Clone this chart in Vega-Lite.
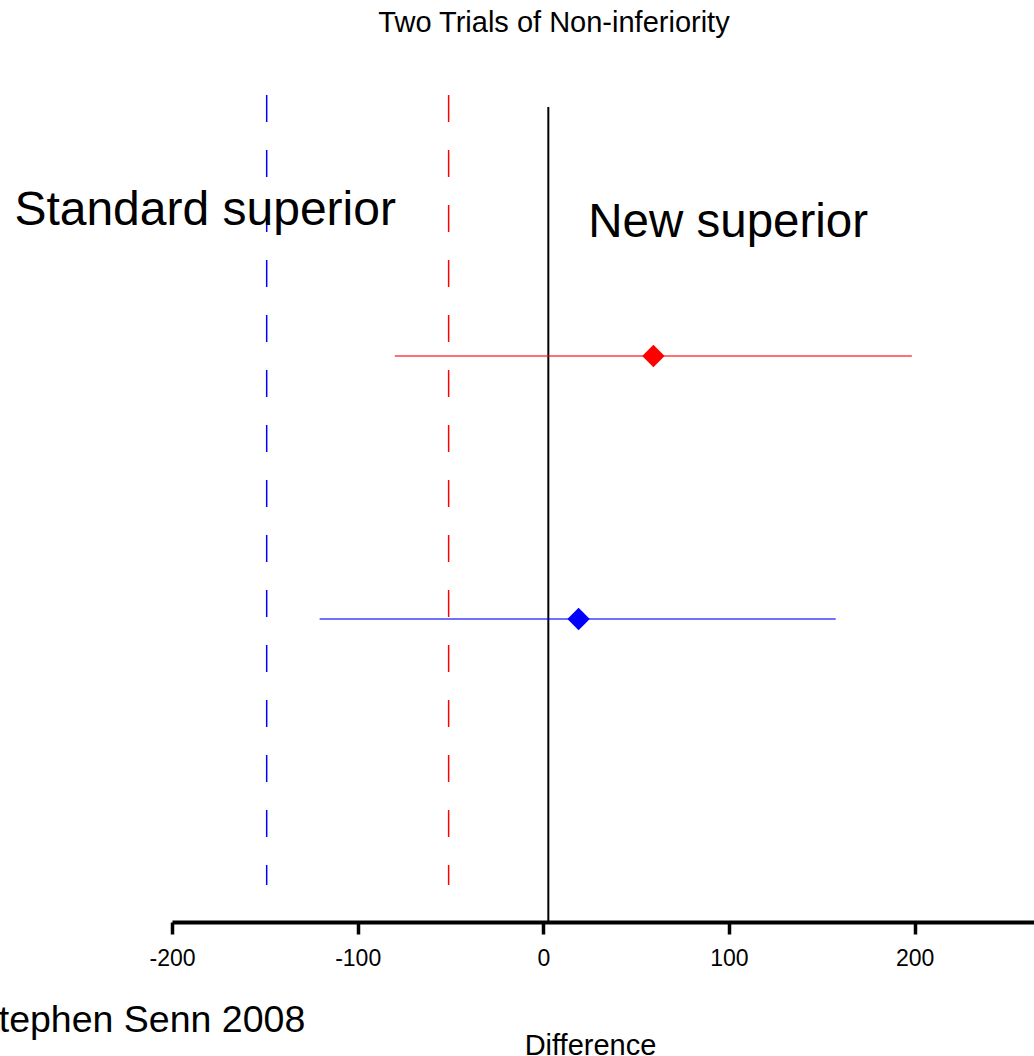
{
  "$schema": "https://vega.github.io/schema/vega-lite/v6.json",
  "width": 862,
  "height": 862,
  "autosize": {"type": "none"},
  "padding": {"left": 172, "top": 60, "right": 0, "bottom": 134},
  "background": "white",
  "title": {
    "text": "Two Trials of Non-inferiority",
    "font": "Liberation Sans",
    "fontSize": 29,
    "fontWeight": "normal",
    "color": "black",
    "anchor": "middle",
    "frame": "group",
    "dx": -49,
    "offset": 22
  },
  "config": {
    "view": {"stroke": null},
    "axisX": {
      "grid": false,
      "ticks": true,
      "domainWidth": 4,
      "domainColor": "black",
      "tickWidth": 3.5,
      "tickSize": 12,
      "tickColor": "black",
      "labelFont": "Liberation Sans",
      "labelFontSize": 23,
      "labelColor": "black",
      "labelPadding": 13,
      "labelFlush": false,
      "labelOverlap": false,
      "titleFont": "Liberation Sans",
      "titleFontSize": 29,
      "titleFontWeight": "normal",
      "titleColor": "black",
      "titleX": 418,
      "titleY": 132,
      "titleAlign": "center",
      "titleBaseline": "alphabetic"
    }
  },
  "datasets": {
    "trials": [
      {"trial": "A", "est": 59.3, "lo": -80, "hi": 198.5, "pos": 65.66},
      {"trial": "B", "est": 19, "lo": -120.5, "hi": 157.5, "pos": 35.15}
    ],
    "margins": [
      {"trial": "B", "margin": -149, "top": 95.94, "bottom": 4.29},
      {"trial": "A", "margin": -51, "top": 95.94, "bottom": 4.29}
    ],
    "zero": [
      {"x": 2.7, "top": 94.55, "bottom": 0}
    ],
    "notes": [
      {"label": "Standard superior", "x": -284.9, "y": 80.86},
      {"label": "New superior", "x": 24.2, "y": 79.47},
      {"label": "Stephen Senn 2008", "x": -306.8, "y": -12.76}
    ]
  },
  "layer": [
    {
      "data": {"name": "margins"},
      "mark": {"type": "rule", "strokeWidth": 1.5, "strokeDash": [27, 28]},
      "encoding": {
        "x": {"field": "margin", "type": "quantitative", "title": "Difference",
              "scale": {"domain": [-200, 264.3], "nice": false, "zero": false},
              "axis": {"values": [-200, -100, 0, 100, 200], "labelExpr": "'' + datum.value"}},
        "y": {"field": "top", "type": "quantitative", "axis": null,
              "scale": {"domain": [0, 100], "nice": false, "zero": false}},
        "y2": {"field": "bottom"},
        "color": {"field": "trial", "type": "nominal", "legend": null,
                  "scale": {"domain": ["A", "B"], "range": ["#ff0000", "#0000ff"]}}
      }
    },
    {
      "data": {"name": "zero"},
      "mark": {"type": "rule", "strokeWidth": 2, "color": "black"},
      "encoding": {
        "x": {"field": "x", "type": "quantitative", "title": "Difference"},
        "y": {"field": "top", "type": "quantitative", "axis": null},
        "y2": {"field": "bottom"}
      }
    },
    {
      "data": {"name": "trials"},
      "mark": {"type": "rule", "strokeWidth": 1.5, "opacity": 0.75},
      "encoding": {
        "x": {"field": "lo", "type": "quantitative", "title": "Difference"},
        "x2": {"field": "hi"},
        "y": {"field": "pos", "type": "quantitative", "axis": null},
        "color": {"field": "trial", "type": "nominal", "legend": null}
      }
    },
    {
      "data": {"name": "trials"},
      "mark": {"type": "point", "shape": "diamond", "filled": true, "size": 500, "opacity": 1},
      "encoding": {
        "x": {"field": "est", "type": "quantitative", "title": "Difference"},
        "y": {"field": "pos", "type": "quantitative", "axis": null},
        "color": {"field": "trial", "type": "nominal", "legend": null}
      }
    },
    {
      "data": {"name": "notes"},
      "transform": [{"filter": "datum.label == 'Standard superior'"}],
      "mark": {"type": "text", "font": "Liberation Sans", "fontSize": 48, "align": "left", "baseline": "alphabetic", "color": "black"},
      "encoding": {
        "x": {"field": "x", "type": "quantitative", "title": "Difference"},
        "y": {"field": "y", "type": "quantitative", "axis": null},
        "text": {"field": "label"}
      }
    },
    {
      "data": {"name": "notes"},
      "transform": [{"filter": "datum.label == 'New superior'"}],
      "mark": {"type": "text", "font": "Liberation Sans", "fontSize": 47.5, "align": "left", "baseline": "alphabetic", "color": "black"},
      "encoding": {
        "x": {"field": "x", "type": "quantitative", "title": "Difference"},
        "y": {"field": "y", "type": "quantitative", "axis": null},
        "text": {"field": "label"}
      }
    },
    {
      "data": {"name": "notes"},
      "transform": [{"filter": "datum.label == 'Stephen Senn 2008'"}],
      "mark": {"type": "text", "font": "Liberation Sans", "fontSize": 37.5, "align": "left", "baseline": "alphabetic", "color": "black"},
      "encoding": {
        "x": {"field": "x", "type": "quantitative", "title": "Difference"},
        "y": {"field": "y", "type": "quantitative", "axis": null},
        "text": {"field": "label"}
      }
    }
  ]
}
